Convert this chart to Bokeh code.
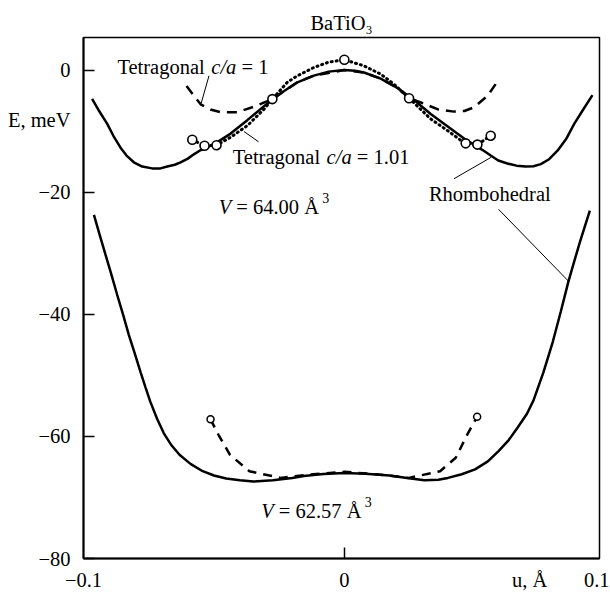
from bokeh.plotting import figure
from bokeh.models import Range1d, FixedTicker, Label
from bokeh.embed import file_html
from bokeh.resources import INLINE

FONT = "Liberation Serif"
FS = "20.5px"

# ---------------- data (u in Angstrom, E in meV) ----------------
# V = 64.00 A^3, rhombohedral (solid)
u_rh64 = [-0.0967, -0.094, -0.0909, -0.0885, -0.0858, -0.0835, -0.0807, -0.0775,
          -0.0737, -0.0705, -0.0679, -0.065, -0.0628, -0.060, -0.0577, -0.0555,
          -0.0532, -0.0487, -0.0436, -0.0372, -0.0308, -0.0244, -0.018, -0.0117,
          -0.006, 0.0, 0.004, 0.0075, 0.0139, 0.0203, 0.0267, 0.0331, 0.0395,
          0.0472, 0.0497, 0.053, 0.0561, 0.059, 0.0625, 0.066, 0.0695, 0.0725,
          0.0753, 0.0785, 0.0817, 0.085, 0.0881, 0.0915, 0.0951]
E_rh64 = [-4.7, -6.7, -8.8, -10.8, -12.7, -14.0, -15.1, -15.8,
          -16.1, -16.1, -15.8, -15.5, -15.1, -14.5, -13.8, -13.2,
          -12.8, -11.8, -10.4, -8.2, -5.9, -3.8, -2.0, -0.9,
          -0.25, 0.0, -0.1, -0.4, -1.4, -2.9, -4.9, -7.2, -9.2,
          -11.6, -12.2, -13.1, -14.0, -14.8, -15.3, -15.65, -15.8, -15.75,
          -15.4, -14.6, -13.2, -11.3, -8.8, -6.5, -4.1]

# V = 64.00 A^3, tetragonal c/a = 1.01 (dotted)
u_t101 = [-0.0583, -0.0536, -0.049, -0.0436, -0.0372, -0.0308, -0.0276, -0.0219,
          -0.018, -0.0117, -0.006, 0.0, 0.0075, 0.0139, 0.019, 0.0248, 0.0331,
          0.0395, 0.0446, 0.0465, 0.051, 0.0561]
E_t101 = [-11.4, -12.4, -12.3, -11.0, -9.1, -6.4, -4.75, -2.0,
          -0.93, 0.43, 1.3, 1.7, 0.7, -0.65, -2.3, -4.6, -8.0,
          -9.9, -11.5, -12.0, -12.2, -10.75]

# V = 64.00 A^3, tetragonal c/a = 1 (dashed)
u_t1_64 = [-0.0605, -0.0575, -0.0551, -0.051, -0.0474, -0.041, -0.0347, -0.0276,
           -0.018, -0.0117, 0.0, 0.0075, 0.0139, 0.0203, 0.0248, 0.0293, 0.0357,
           0.042, 0.046, 0.0497, 0.0549, 0.058]
E_t1_64 = [-2.6, -4.3, -5.6, -6.5, -6.9, -6.9, -6.0, -4.75,
           -2.0, -0.9, 0.0, -0.4, -1.4, -2.9, -4.6, -5.3, -6.4,
           -6.8, -6.7, -6.1, -4.2, -2.3]

# V = 64.00 A^3, calculated points (open circles)
u_pts64 = [-0.0583, -0.0536, -0.049, -0.0276, 0.0, 0.0248, 0.0465, 0.051, 0.0561]
E_pts64 = [-11.4, -12.4, -12.3, -4.75, 1.7, -4.6, -12.0, -12.2, -10.75]

# V = 62.57 A^3, rhombohedral (solid)
u_rh62 = [-0.096, -0.0938, -0.0916, -0.0893, -0.0871, -0.0848, -0.0826, -0.0803,
          -0.0781, -0.0762, -0.0744, -0.0718, -0.0692, -0.0662, -0.0632, -0.059,
          -0.0543, -0.05, -0.0453, -0.04, -0.0349, -0.0274, -0.02, -0.0155,
          -0.008, 0.0, 0.008, 0.0173, 0.024, 0.0307, 0.036, 0.0397, 0.045,
          0.0501, 0.055, 0.0591, 0.063, 0.0665, 0.07, 0.0725, 0.0763, 0.0799,
          0.083, 0.0859, 0.0882, 0.0904, 0.0941]
E_rh62 = [-23.7, -27.0, -30.2, -33.5, -36.8, -40.1, -43.4, -46.5,
          -49.5, -52.0, -54.3, -57.1, -59.5, -61.5, -63.0, -64.5,
          -65.7, -66.4, -66.9, -67.2, -67.4, -67.2, -66.8, -66.5,
          -66.15, -66.0, -66.1, -66.4, -66.8, -67.2, -67.1, -66.8, -66.2,
          -65.4, -64.1, -62.4, -60.6, -58.5, -56.3, -54.1, -49.5, -44.5,
          -39.5, -34.6, -31.2, -28.0, -23.0]

# V = 62.57 A^3, tetragonal (dashed)
u_t1_62 = [-0.0513, -0.0483, -0.0439, -0.0364, -0.0245, -0.012, 0.0, 0.012,
           0.0247, 0.0367, 0.0427, 0.0471, 0.0509]
E_t1_62 = [-57.2, -59.7, -63.0, -65.7, -66.8, -66.2, -65.8, -66.2,
           -66.8, -65.7, -63.5, -59.7, -56.8]

# V = 62.57 A^3, calculated points
u_pts62 = [-0.0513, 0.0509]
E_pts62 = [-57.2, -56.8]

# leader lines (annotation pointers)
lead_x0 = [-0.0519, -0.0385, 0.0562, 0.0591]
lead_y0 = [-0.93, -10.05, -14.3, -22.8]
lead_x1 = [-0.0549, -0.0329, 0.0420, 0.0862]
lead_y1 = [-5.47, -11.74, -17.8, -34.7]

# axes: labelled positions (tick marks are drawn only at the real ticks)
y_ticks = [-80, -60, -40, -20, 0]
y_label_pos = [-80, -60, -40, -20, -8.2, 0]
y_label_txt = ["\u221280", "\u221260", "\u221240", "\u221220", "E, meV", "0"]
x_ticks = [0.0]
x_label_pos = [-0.1, 0.0, 0.071, 0.0978]
x_label_txt = ["\u22120.1", "0", "u, \u00c5", "0.1"]

# ---------------- figure ----------------
p = figure(width=609, height=601, output_backend="svg", toolbar_location=None,
           title="BaTiO\u2083",
           x_range=Range1d(-0.1, 0.0978), y_range=Range1d(-80, 5.34),
           min_border_left=83, min_border_right=10, min_border_top=37,
           min_border_bottom=43)
p.title.align = "center"
p.title.text_font = FONT
p.title.text_font_size = FS
p.title.text_font_style = "normal"
p.title.text_color = "black"
p.title.standoff = 7

p.grid.visible = False
p.background_fill_color = "white"
p.border_fill_color = "white"
p.outline_line_color = "black"
p.outline_line_width = 1.5

for ax in (p.xaxis[0], p.yaxis[0]):
    ax.axis_line_width = 2
    ax.axis_line_color = "black"
    ax.major_tick_line_color = None
    ax.major_tick_in = 0
    ax.major_tick_out = 0
    ax.minor_tick_in = 11
    ax.minor_tick_out = 0
    ax.minor_tick_line_width = 1.5
    ax.minor_tick_line_color = "black"
    ax.major_label_text_font = FONT
    ax.major_label_text_font_size = FS
    ax.major_label_text_color = "black"

p.yaxis.ticker = FixedTicker(ticks=y_label_pos, minor_ticks=y_ticks)
p.yaxis.major_label_overrides = dict(zip(y_label_pos, y_label_txt))
p.yaxis.major_label_standoff = 13
p.xaxis.ticker = FixedTicker(ticks=x_label_pos, minor_ticks=x_ticks)
p.xaxis.major_label_overrides = dict(zip(x_label_pos, x_label_txt))
p.xaxis.major_label_standoff = 10

# curves
p.line(u_rh64, E_rh64, line_color="black", line_width=2.5)
p.line(u_t101, E_t101, line_color="black", line_width=3, line_dash="1 4",
       line_cap="round")
p.line(u_t1_64, E_t1_64, line_color="black", line_width=2.5, line_dash="10 7")
p.line(u_rh62, E_rh62, line_color="black", line_width=2.5)
p.line(u_t1_62, E_t1_62, line_color="black", line_width=2.5, line_dash="9 7")
p.segment(x0=lead_x0, y0=lead_y0, x1=lead_x1, y1=lead_y1,
          line_color="black", line_width=1)
p.scatter(u_pts64, E_pts64, marker="circle", size=9, fill_color="white",
          line_color="black", line_width=1.6)
p.scatter(u_pts62, E_pts62, marker="circle", size=7, fill_color="white",
          line_color="black", line_width=1.5)


def lab(x, y, text, dx=0.0, dy=0.0, style="normal", size=FS):
    p.add_layout(Label(x=x, y=y, x_offset=dx, y_offset=dy, text=text,
                       text_font=FONT, text_font_size=size,
                       text_font_style=style, text_color="black",
                       text_align="left", text_baseline="alphabetic"))


# curve labels
for (lx, ly, tail) in ((-0.0870, 0.43, "= 1"), (-0.0428, -14.3, "= 1.01")):
    lab(lx, ly, "Tetragonal")
    lab(lx, ly, "c/a", dx=93.9, style="italic")
    lab(lx, ly, tail, dx=124.1)
lab(0.0324, -20.3, "Rhombohedral")
for (lx, ly, tail) in ((-0.0482, -22.5, "= 64.00 \u00c5"), (-0.0319, -72.3, "= 62.57 \u00c5")):
    lab(lx, ly, "V", style="italic")
    lab(lx, ly, tail, dx=17.6)
    lab(lx, ly, "3", dx=103.5, dy=9, size="14px")

open("out.html", "w").write(file_html(p, INLINE))
